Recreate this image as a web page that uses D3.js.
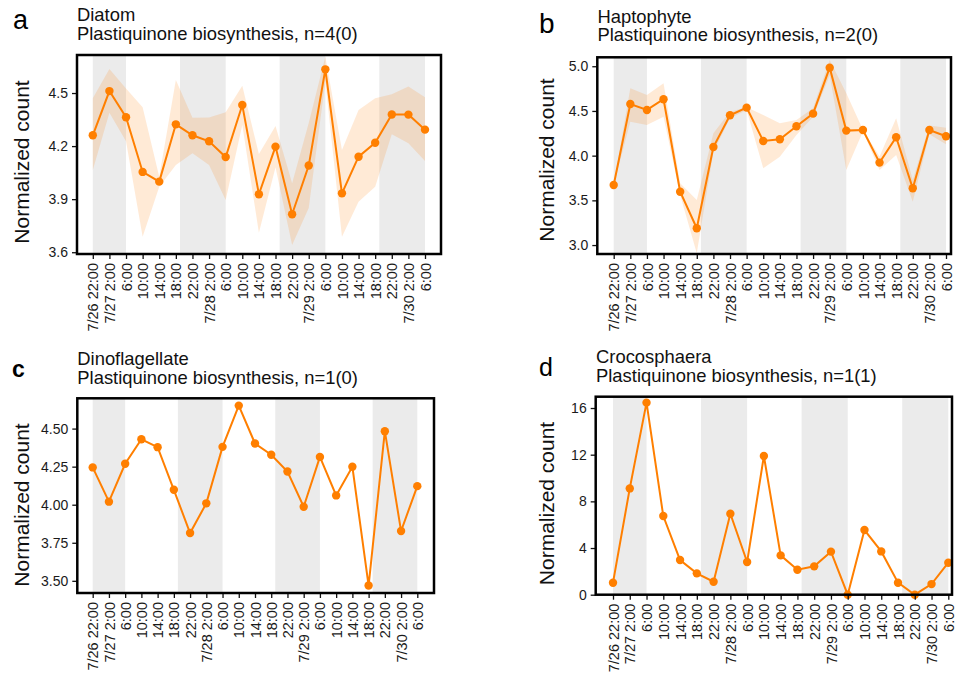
<!DOCTYPE html>
<html>
<head>
<meta charset="utf-8">
<script src="https://cdn.jsdelivr.net/npm/d3@7"></script>
<style>
  html, body { margin: 0; padding: 0; background: #fff; }
  svg { display: block; font-family: "Liberation Sans", Arial, sans-serif; }
</style>
</head>
<body>
<svg id="chart" width="955" height="677"></svg>
<script>
// ---------- data ----------
const timeLabels = ["7/26 22:00","7/27 2:00","6:00","10:00","14:00","18:00","22:00",
  "7/28 2:00","6:00","10:00","14:00","18:00","22:00",
  "7/29 2:00","6:00","10:00","14:00","18:00","22:00","7/30 2:00","6:00"];
// night periods, in sampling-index units
const nightStart = [0, 5.25, 11.25, 17.25];
const nightEnd   = [2, 8, 14, 20];

const diatomMean  = [4.261,4.511,4.363,4.054,3.999,4.323,4.261,4.227,4.138,4.432,3.928,4.197,3.815,4.090,4.634,3.933,4.140,4.219,4.379,4.378,4.293];
const diatomLower = [4.065,4.389,4.227,3.688,3.970,4.093,4.159,4.093,3.895,4.319,3.710,4.080,3.641,3.850,4.564,3.688,3.886,3.970,4.267,4.216,4.116];
const diatomUpper = [4.470,4.636,4.526,4.419,4.027,4.573,4.360,4.362,4.391,4.541,4.155,4.314,3.990,4.330,4.705,4.178,4.404,4.470,4.493,4.537,4.476];

const haptoMean  = [3.672,4.578,4.511,4.631,3.597,3.188,4.097,4.452,4.537,4.164,4.183,4.329,4.470,4.984,4.280,4.287,3.922,4.206,3.635,4.287,4.217];
const haptoLower = [3.672,4.380,4.343,4.436,3.560,2.908,4.045,4.418,4.510,3.859,3.989,4.230,4.436,4.900,3.840,4.270,3.840,4.008,3.485,4.240,4.127];
const haptoUpper = [3.672,4.754,4.679,4.810,3.690,3.504,4.250,4.492,4.540,4.455,4.362,4.400,4.530,5.070,4.698,4.290,3.990,4.418,3.728,4.336,4.313];

const dinoMean  = [4.245,4.020,4.269,4.430,4.378,4.098,3.814,4.009,4.380,4.651,4.402,4.328,4.218,3.987,4.314,4.061,4.249,3.469,4.483,3.827,4.122];

const crocoMean = [1.03,9.11,16.46,6.74,2.97,1.83,1.11,6.94,2.80,11.89,3.37,2.14,2.43,3.69,0,5.54,3.71,1.03,0,0.91,2.74];

const ticksA = [3.6, 3.9, 4.2, 4.5];
const ticksB = [3.0, 3.5, 4.0, 4.5, 5.0];
const ticksC = [3.5, 3.75, 4.0, 4.25, 4.5];
const ticksD = [0, 4, 8, 12, 16];

const titles = ["Diatom", "Haptophyte", "Dinoflagellate", "Crocosphaera"];
const subtitles = ["Plastiquinone biosynthesis, n=4(0)", "Plastiquinone biosynthesis, n=2(0)",
                   "Plastiquinone biosynthesis, n=1(0)", "Plastiquinone biosynthesis, n=1(1)"];
const panelLetters = ["a", "b", "c", "d"];

// ---------- layout ----------
const ORANGE = "#FF7F00";
const panels = [
  { mean: diatomMean, lower: diatomLower, upper: diatomUpper, ticks: ticksA, fmt: d3.format(".1f"),
    box: [77, 55, 441, 254], xr: [92.8, 425], yd: [3.59, 4.715],
    letter: { x: 13, y: 29, size: 27, weight: 400 }, title: { x: 77, y1: 20.7, y2: 39.5 }, ylab: { x: 28.5, y: 162 } },
  { mean: haptoMean, lower: haptoLower, upper: haptoUpper, ticks: ticksB, fmt: d3.format(".1f"),
    box: [597.3, 57.3, 951, 254], xr: [613.7, 946], yd: [2.9, 5.1],
    letter: { x: 539, y: 33.3, size: 28, weight: 400 }, title: { x: 597.5, y1: 22.5, y2: 40.9 }, ylab: { x: 553.5, y: 160 } },
  { mean: dinoMean, ticks: ticksC, fmt: d3.format(".2f"),
    box: [77.3, 398.3, 434, 593], xr: [92.7, 417.3], yd: [3.42, 4.699],
    letter: { x: 12, y: 377, size: 23, weight: 700 }, title: { x: 77.3, y1: 365.3, y2: 384 }, ylab: { x: 28.5, y: 505 } },
  { mean: crocoMean, ticks: ticksD, fmt: d3.format("d"),
    box: [595.7, 396.7, 952, 594.7], xr: [613, 948.3], yd: [0, 16.97],
    letter: { x: 539, y: 375.7, size: 25, weight: 400 }, title: { x: 596, y1: 362.7, y2: 381.5 }, ylab: { x: 554, y: 503.5 } }
];

const svg = d3.select("#chart");
svg.append("rect").attr("width", 955).attr("height", 677).attr("fill", "#fff");
const defs = svg.append("defs");

panels.forEach((p, k) => {
  const [x0, y0, x1, y1] = p.box;
  const x = d3.scaleLinear().domain([0, 20]).range(p.xr);
  const y = d3.scaleLinear().domain(p.yd).range([y1, y0]);
  const g = svg.append("g");

  defs.append("clipPath").attr("id", "clip" + k)
    .append("rect").attr("x", x0).attr("y", y0).attr("width", x1 - x0).attr("height", y1 - y0);

  // night shading
  g.selectAll("rect.night").data(nightStart).join("rect")
    .attr("class", "night")
    .attr("x", (d) => x(d))
    .attr("width", (d, i) => x(nightEnd[i]) - x(d))
    .attr("y", y0).attr("height", y1 - y0)
    .attr("fill", "#EBEBEB");

  // ribbon
  if (p.lower) {
    const area = d3.area()
      .x((d, i) => x(i))
      .y0((d, i) => y(p.lower[i]))
      .y1((d, i) => y(p.upper[i]));
    g.append("path").datum(p.mean)
      .attr("d", area)
      .attr("fill", ORANGE).attr("fill-opacity", 0.16)
      .attr("clip-path", "url(#clip" + k + ")");
  }

  // line
  const line = d3.line().x((d, i) => x(i)).y((d) => y(d));
  g.append("path").datum(p.mean).attr("d", line)
    .attr("fill", "none").attr("stroke", ORANGE).attr("stroke-width", 2);

  // points
  g.selectAll("circle").data(p.mean).join("circle")
    .attr("cx", (d, i) => x(i)).attr("cy", (d) => y(d)).attr("r", 4.2)
    .attr("fill", ORANGE);

  // y axis
  const ya = g.append("g").attr("transform", `translate(${x0},0)`)
    .call(d3.axisLeft(y).tickValues(p.ticks).tickFormat(p.fmt).tickSize(5).tickPadding(4));
  ya.select(".domain").remove();
  ya.selectAll(".tick line").attr("stroke", "#111").attr("stroke-width", 1.3);
  ya.selectAll(".tick text").attr("fill", "#1a1a1a").style("font-size", "14px")
    .style("font-family", "'Liberation Sans', Arial, sans-serif");

  // x axis
  const xa = g.append("g").attr("transform", `translate(0,${y1})`)
    .call(d3.axisBottom(x).tickValues(d3.range(21)).tickFormat((i) => timeLabels[i]).tickSize(5));
  xa.select(".domain").remove();
  xa.selectAll(".tick line").attr("stroke", "#111").attr("stroke-width", 1.3);
  xa.selectAll(".tick text")
    .attr("transform", "rotate(-90)")
    .attr("x", -9).attr("y", 0).attr("dy", "0.35em")
    .style("text-anchor", "end")
    .attr("fill", "#1a1a1a").style("font-size", "14.5px")
    .style("font-family", "'Liberation Sans', Arial, sans-serif");

  // panel border
  g.append("rect").attr("x", x0).attr("y", y0).attr("width", x1 - x0).attr("height", y1 - y0)
    .attr("fill", "none").attr("stroke", "#000").attr("stroke-width", 2.5);

  // y label
  g.append("text")
    .attr("transform", `translate(${p.ylab.x},${p.ylab.y}) rotate(-90)`)
    .attr("text-anchor", "middle")
    .style("font-size", "21px").attr("fill", "#111")
    .text("Normalized count");

  // two-line title as one text block
  const t = g.append("text").attr("x", p.title.x).attr("y", p.title.y1)
    .style("font-size", "18.4px").attr("fill", "#111");
  t.append("tspan").attr("x", p.title.x).attr("y", p.title.y1).text(titles[k]);
  t.append("tspan").attr("x", p.title.x).attr("y", p.title.y2).text(subtitles[k]);

  // panel letter
  g.append("text").attr("x", p.letter.x).attr("y", p.letter.y)
    .style("font-size", p.letter.size + "px").style("font-weight", p.letter.weight)
    .attr("fill", "#000").text(panelLetters[k]);
});
</script>
</body>
</html>
